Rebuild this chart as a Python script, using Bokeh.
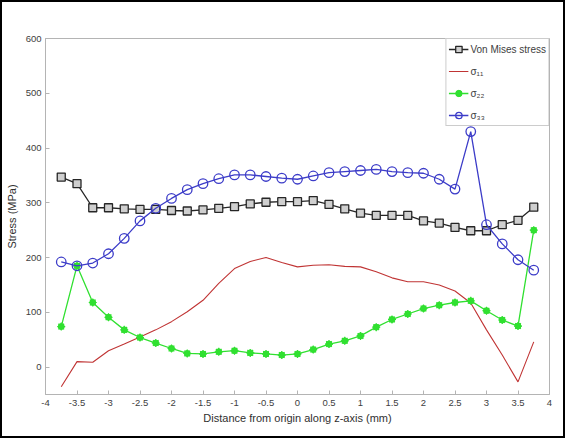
from bokeh.plotting import figure
from bokeh.models import FixedTicker, Legend, LegendItem, Range1d
from bokeh.embed import file_html
from bokeh.resources import INLINE

# ---- data ----
z = [-3.75, -3.5, -3.25, -3.0, -2.75, -2.5, -2.25, -2.0, -1.75, -1.5, -1.25, -1.0,
     -0.75, -0.5, -0.25, 0.0, 0.25, 0.5, 0.75, 1.0, 1.25, 1.5, 1.75, 2.0, 2.25,
     2.5, 2.75, 3.0, 3.25, 3.5, 3.75]
von_mises = [347, 335, 291, 291, 289, 288, 288, 286, 285, 287, 290, 293, 298, 301,
             302, 302, 304, 297, 289, 281, 277, 277, 277, 267, 263, 255, 249, 249,
             260, 268, 292]
sigma11 = [-36, 10, 9, 30, 42, 55, 68, 83, 101, 122, 153, 180, 193, 200, 191, 183,
           186, 187, 184, 183, 174, 163, 156, 156, 150, 139, 117, 68, 22, -27, 46]
sigma22 = [74, 185, 118, 91, 68, 54, 44, 34, 25, 24, 28, 30, 26, 24, 22, 24, 32,
           42, 48, 57, 73, 87, 97, 107, 113, 118, 121, 103, 86, 75, 250]
sigma33 = [192, 185, 190, 207, 235, 267, 290, 308, 324, 335, 344, 351, 351, 348,
           345, 343, 349, 355, 357, 359, 361, 357, 355, 354, 343, 325, 430, 260,
           225, 196, 177]

x_ticks = [-4, -3.5, -3, -2.5, -2, -1.5, -1, -0.5, 0, 0.5, 1, 1.5, 2, 2.5, 3, 3.5, 4]
x_tick_labels = ["-4", "-3.5", "-3", "-2.5", "-2", "-1.5", "-1", "-0.5", "0", "0.5",
                 "1", "1.5", "2", "2.5", "3", "3.5", "4"]
y_ticks = [0, 100, 200, 300, 400, 500, 600]
y_tick_labels = ["0", "100", "200", "300", "400", "500", "600"]

series_names = ["Von Mises stress", "σ₁₁", "σ₂₂", "σ₃₃"]
x_label = "Distance from origin along z-axis (mm)"
y_label = "Stress (MPa)"

FONT = "Liberation Sans"
AX = "#b4b4b4"
TXT = "#404040"
BLACK = "#262626"
RED = "#c03434"
GREEN = "#30e030"
BLUE = "#3c3cc8"

p = figure(width=565, height=438, output_backend="svg", toolbar_location=None,
           x_range=Range1d(-4, 4), y_range=Range1d(-50, 600),
           min_border_left=41, min_border_right=18, min_border_top=36,
           min_border_bottom=46)
p.styles = {"border": "2px solid black"}
p.xgrid.visible = False
p.ygrid.visible = False
p.outline_line_color = AX
p.outline_line_width = 1
p.background_fill_color = "white"
p.border_fill_color = "white"

def style_axis(ax, ticks, labels):
    ax.ticker = FixedTicker(ticks=ticks)
    ax.major_label_overrides = {t: l for t, l in zip(ticks, labels)}
    ax.axis_line_color = AX
    ax.major_tick_line_color = AX
    ax.minor_tick_line_color = None
    ax.major_tick_in = 4
    ax.major_tick_out = 0
    ax.major_label_text_font = FONT
    ax.major_label_text_font_size = "9.5px"
    ax.major_label_text_color = TXT
    ax.axis_label_text_font = FONT
    ax.axis_label_text_font_size = "11px"
    ax.axis_label_text_font_style = "normal"
    ax.axis_label_text_color = "#303030"

style_axis(p.xaxis[0], x_ticks, x_tick_labels)
style_axis(p.yaxis[0], y_ticks, y_tick_labels)
p.xaxis[0].axis_label = x_label
p.yaxis[0].axis_label = y_label
p.xaxis[0].major_label_standoff = 5
p.yaxis[0].major_label_standoff = 4
p.xaxis[0].axis_label_standoff = 3
p.yaxis[0].axis_label_standoff = 5

r_vm_l = p.line(z, von_mises, color=BLACK, line_width=1.3)
r_vm_m = p.scatter(z, von_mises, marker="square", size=8, line_color=BLACK,
                   fill_color="#cfcfcf", line_width=1.3)
r_s11 = p.line(z, sigma11, color=RED, line_width=1.1)
r_s22_l = p.line(z, sigma22, color=GREEN, line_width=1.3)
r_s22_m = p.scatter(z, sigma22, marker="circle", size=6, line_color=GREEN,
                    fill_color=GREEN)
r_s22_a = p.scatter(z, sigma22, marker="asterisk", size=8, line_color=GREEN,
                    line_width=1.2)
r_s33_l = p.line(z, sigma33, color=BLUE, line_width=1.3)
r_s33_m = p.scatter(z, sigma33, marker="circle", size=9.5, line_color=BLUE,
                    fill_color=None, line_width=1.3)

legend = Legend(items=[
    LegendItem(label=series_names[0], renderers=[r_vm_l, r_vm_m]),
    LegendItem(label=series_names[1], renderers=[r_s11]),
    LegendItem(label=series_names[2], renderers=[r_s22_l, r_s22_m, r_s22_a]),
    LegendItem(label=series_names[3], renderers=[r_s33_l, r_s33_m]),
], location="top_right", margin=0, padding=2, spacing=6, glyph_height=16,
    glyph_width=20, label_height=16, label_standoff=2,
    label_text_font=FONT, label_text_font_size="10px", label_text_color=TXT,
    border_line_color="#9a9a9a", border_line_width=1,
    background_fill_color="white", background_fill_alpha=1)
p.add_layout(legend)

open("out.html", "w").write(file_html(p, INLINE))
